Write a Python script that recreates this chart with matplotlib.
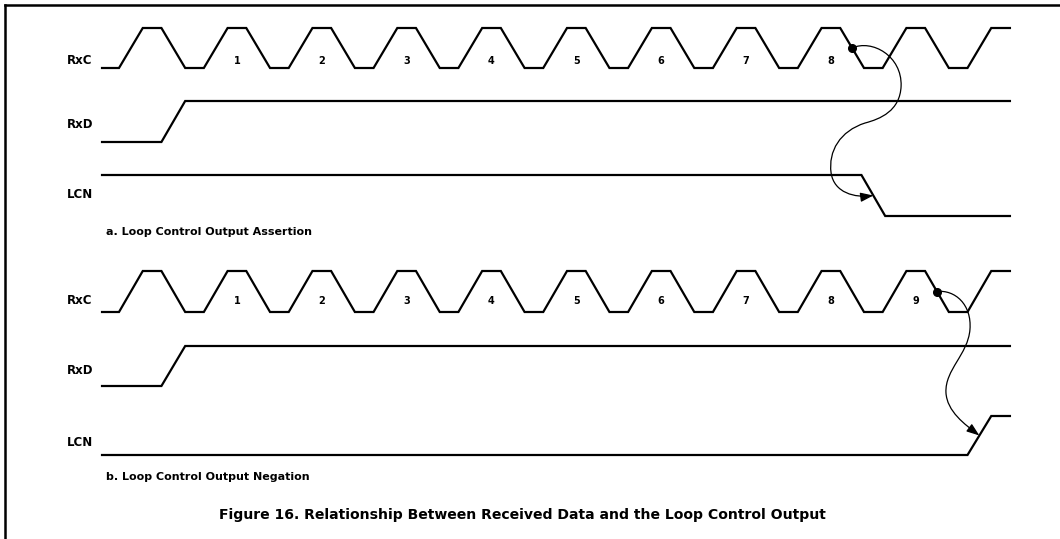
import numpy as np
import matplotlib
matplotlib.use("Agg")
import matplotlib.pyplot as plt
from matplotlib.lines import Line2D
from matplotlib.patches import FancyArrowPatch
from matplotlib.path import Path

# --- timing data (time in clock periods, t=0 is first RxC rising edge) ---
rxc_rise = [0, 1, 2, 3, 4, 5, 6, 7, 8, 9, 10]
clock_labels_a = ["1", "2", "3", "4", "5", "6", "7", "8"]
clock_labels_b = ["1", "2", "3", "4", "5", "6", "7", "8", "9"]
signal_names = ["RxC", "RxD", "LCN"]

t_start = -0.2
t_end = 10.5
EDGE = 0.28      # slope duration of every edge
HIGH = 0.22      # flat top of the clock

rxd_rise_a = 0.5
rxd_rise_b = 0.5
lcn_fall_a = 8.75    # LCN asserted (goes low) after falling edge of clock 8
lcn_rise_b = 10.0    # LCN negated (goes high) after falling edge of clock 9
trigger_a = 8
trigger_b = 9

caption_a = "a. Loop Control Output Assertion"
caption_b = "b. Loop Control Output Negation"
title = "Figure 16. Relationship Between Received Data and the Loop Control Output"

# --- layout (pixels) ---
W, H = 1060, 539
X0, PX = 119, 84.85          # pixel of t=0, pixels per clock period
rows_a = [(68, 28), (142, 101), (216, 175)]     # (low y, high y)
rows_b = [(312, 271), (386, 346), (455, 416)]
label_y_a = [61, 124, 195]
label_y_b = [301, 370, 442]
FONT = "DejaVu Sans"


def px2t(x):
    return (x - X0) / PX


def clock_wave(rises):
    ts, lv = [t_start], [0]
    for r in rises:
        ts += [r, r + EDGE, r + EDGE + HIGH, r + 2 * EDGE + HIGH]
        lv += [0, 1, 1, 0]
    ts, lv = np.array(ts), np.array(lv, dtype=float)
    keep = ts < t_end
    end_level = np.interp(t_end, ts, lv)
    return np.append(ts[keep], t_end), np.append(lv[keep], end_level)


def step_wave(t_edge, start_level):
    ts = [t_start, t_edge, t_edge + EDGE, t_end]
    lv = [start_level, start_level, 1 - start_level, 1 - start_level]
    return np.array(ts), np.array(lv, dtype=float)


def to_y(levels, row):
    low, high = row
    return low + (high - low) * levels


fig = plt.figure(figsize=(W / 100, H / 100), dpi=100)
ax = fig.add_axes([0, 0, 1, 1])
ax.set_xlim(px2t(0), px2t(W))
ax.set_ylim(H, 0)
ax.axis("off")

# frame (top and left edges only)
fig.add_artist(Line2D([5 / W, 1], [1 - 5 / H] * 2, color="black", lw=1.8,
                      transform=fig.transFigure))
fig.add_artist(Line2D([5 / W] * 2, [0, 1 - 5 / H], color="black", lw=1.8,
                      transform=fig.transFigure))

panels = [
    (rows_a, label_y_a, clock_labels_a, step_wave(rxd_rise_a, 0),
     step_wave(lcn_fall_a, 1), caption_a, 232, trigger_a, lcn_fall_a,
     [(20, -9), (50, 8), (49, 38), (48, 63), (28, 71), (13, 75),
      (-12, 83), (-24, 103), (-21, 125), (-18, 145), (3, 150)]),
    (rows_b, label_y_b, clock_labels_b, step_wave(rxd_rise_b, 0),
     step_wave(lcn_rise_b, 0), caption_b, 477, trigger_b, lcn_rise_b,
     [(18, -2), (35, 13), (33, 38), (31, 63), (8, 78), (9, 101),
      (10, 120), (28, 133)]),
]

for rows, label_y, clk_labels, rxd, lcn, caption, cap_y, trig, lcn_edge, shape in panels:
    waves = [clock_wave(rxc_rise), rxd, lcn]
    for (ts, lv), row, name, ly in zip(waves, rows, signal_names, label_y):
        ax.plot(ts, to_y(lv, row), color="black", lw=1.6, solid_joinstyle="miter")
        ax.text(px2t(67), ly, name, fontsize=8.5, fontweight="bold",
                family=FONT, ha="left", va="center")
    for i, lab in enumerate(clk_labels):
        tc = rxc_rise[i + 1] + EDGE + HIGH / 2
        ax.text(tc, label_y[0], lab, fontsize=7, fontweight="bold",
                family=FONT, ha="center", va="center")
    ax.text(px2t(106), cap_y, caption, fontsize=8, fontweight="bold",
            family=FONT, ha="left", va="center")

    # curved cause -> effect arrow
    clk_row, lcn_row = rows[0], rows[2]
    s_t = rxc_rise[trig] + EDGE + HIGH + EDGE / 2
    s_y = (clk_row[0] + clk_row[1]) / 2
    e_t = lcn_edge + EDGE / 2
    e_y = (lcn_row[0] + lcn_row[1]) / 2
    verts = [(s_t, s_y)] + [(s_t + dx / PX, s_y + dy) for dx, dy in shape] + [(e_t, e_y)]
    codes = [Path.MOVETO] + [Path.CURVE4] * (len(verts) - 1)
    arrow = FancyArrowPatch(path=Path(verts, codes),
                            arrowstyle="-|>,head_length=0.55,head_width=0.2",
                            mutation_scale=14, lw=0.9, color="black",
                            shrinkA=0, shrinkB=2)
    ax.add_patch(arrow)
    ax.plot([s_t], [s_y], "o", color="black", markersize=5.5)

ax.text(px2t(522), 515, title, fontsize=10.1, fontweight="bold", family=FONT,
        ha="center", va="center")

fig.savefig("out.png", dpi=100)
